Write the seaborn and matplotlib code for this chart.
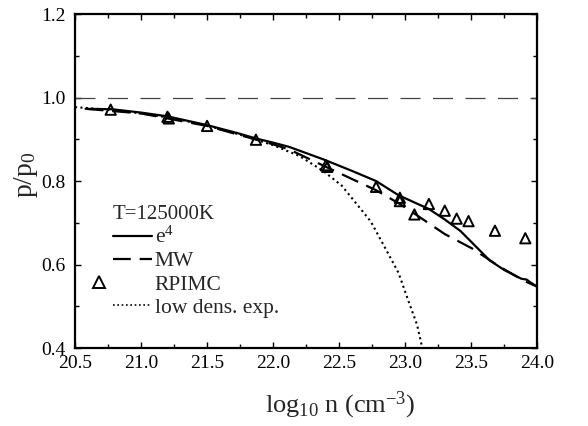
import pandas as pd
import numpy as np
import matplotlib
matplotlib.use('Agg')
import matplotlib.pyplot as plt
import seaborn as sns
from matplotlib.ticker import MultipleLocator, FormatStrFormatter
from matplotlib.lines import Line2D
from matplotlib.legend_handler import HandlerLine2D

# Curva e^4 (linha cheia)
e4_x = [20.58, 20.78, 21.0, 21.2, 21.5, 21.74, 21.87, 22.0, 22.12, 22.38, 22.6, 22.78,
        22.95, 23.18, 23.30, 23.42, 23.64, 23.75, 23.88, 23.92, 23.95, 24.0]
e4_y = [0.973, 0.972, 0.964, 0.955, 0.934, 0.914, 0.902, 0.892, 0.882, 0.852, 0.824, 0.800,
        0.766, 0.733, 0.708, 0.680, 0.610, 0.587, 0.566, 0.564, 0.557, 0.547]

# Curva MW (tracejada)
mw_x = [20.58, 21.0, 21.5, 22.0, 22.12, 22.4, 22.78, 22.96, 23.08, 23.30, 23.51, 23.71, 23.9, 24.0]
mw_y = [0.973, 0.962, 0.932, 0.888, 0.876, 0.834, 0.778, 0.745, 0.720, 0.673, 0.638, 0.596, 0.561, 0.547]

# Expansão de baixa densidade (pontilhada)
low_x = [20.5, 20.75, 21.0, 21.25, 21.5, 21.75, 22.0, 22.2, 22.38, 22.52, 22.62, 22.74,
         22.86, 22.95, 23.02, 23.09, 23.13]
low_y = [0.977, 0.971, 0.962, 0.950, 0.933, 0.911, 0.886, 0.860, 0.824, 0.789, 0.750, 0.703,
         0.633, 0.580, 0.517, 0.456, 0.400]

# Pontos RPIMC
rpimc_x = [20.77, 21.2, 21.21, 21.5, 21.87, 22.4, 22.41, 22.78, 22.96, 22.96, 23.07,
           23.18, 23.30, 23.39, 23.48, 23.68, 23.91]
rpimc_y = [0.971, 0.954, 0.950, 0.932, 0.899, 0.838, 0.834, 0.786, 0.760, 0.752, 0.720,
           0.745, 0.729, 0.710, 0.704, 0.681, 0.663]


# marcador da legenda deslocado para a esquerda, como no original
class HandlerMarcadorEsq(HandlerLine2D):
    def get_xdata(self, legend, xdescent, ydescent, width, height, fontsize):
        m = -xdescent - 0.35 * width
        return np.array([m - 1, m + 1]), np.array([m])


sns.set_theme(style='ticks')
plt.rcParams['font.family'] = ['Liberation Serif', 'DejaVu Serif']
plt.rcParams['mathtext.fontset'] = 'custom'
plt.rcParams['mathtext.rm'] = 'Liberation Serif'
plt.rcParams['mathtext.it'] = 'Liberation Serif:italic'

fig = plt.figure(figsize=(5.88, 4.26), dpi=100)
ax = fig.add_axes([0.1276, 0.183, 0.786, 0.784])

ax.axhline(1.0, color='#444444', lw=0.9, dashes=(16, 10))

sns.lineplot(x=e4_x, y=e4_y, ax=ax, color='black', lw=1.6, sort=False)
sns.lineplot(x=mw_x, y=mw_y, ax=ax, color='black', lw=1.6, sort=False)
ax.lines[-1].set_dashes((8, 4))
sns.lineplot(x=low_x, y=low_y, ax=ax, color='black', lw=1.5, sort=False)
ax.lines[-1].set_linestyle((0, (1, 1.6)))
sns.scatterplot(x=rpimc_x, y=rpimc_y, ax=ax, marker='^', s=55,
                facecolor='none', edgecolor='black', linewidth=1.4, zorder=5)

ax.set_xlim(20.5, 24.0)
ax.set_ylim(0.4, 1.2)
ax.xaxis.set_major_locator(MultipleLocator(0.5))
ax.xaxis.set_minor_locator(MultipleLocator(0.25))
ax.yaxis.set_major_locator(MultipleLocator(0.2))
ax.yaxis.set_minor_locator(MultipleLocator(0.1))
ax.xaxis.set_major_formatter(FormatStrFormatter('%.1f'))
ax.yaxis.set_major_formatter(FormatStrFormatter('%.1f'))
ax.tick_params(which='both', direction='in', top=True, right=True, labelsize=14,
               color='black', labelcolor='black', pad=5)
ax.tick_params(axis='y', which='major', pad=7)
ax.tick_params(which='major', length=4, width=1)
ax.tick_params(which='minor', length=3, width=1)
for s in ax.spines.values():
    s.set_linewidth(1.6)
    s.set_color('black')

ax.set_xlabel(r'log$_{10}$ n (cm$^{-3}$)', fontsize=19)
ax.xaxis.set_label_coords(0.574, -0.125)
ax.set_ylabel(r'p/p$_0$', fontsize=20)
ax.yaxis.set_label_coords(-0.076, 0.52)

handles = [
    Line2D([], [], color='black', lw=1.6),
    Line2D([], [], color='black', lw=1.6, dashes=(8, 4)),
    Line2D([], [], ls='none', marker='^', markersize=8, markerfacecolor='none',
           markeredgecolor='black', markeredgewidth=1.4),
    Line2D([], [], color='black', lw=1.2, ls=(0, (1, 1.6))),
]
labels = [r'e$^4$', 'MW', 'RPIMC', 'low dens. exp.']
leg = ax.legend(handles, labels, title='T=125000K', loc='lower left',
                bbox_to_anchor=(0.082, 0.09), frameon=False, fontsize=15.5,
                title_fontsize=15, handlelength=1.8, handletextpad=0.15,
                labelspacing=0.15, borderaxespad=0, borderpad=0,
                handler_map={handles[2]: HandlerMarcadorEsq(numpoints=1)})
leg._legend_box.align = 'left'

fig.savefig('out.png', dpi=100)
